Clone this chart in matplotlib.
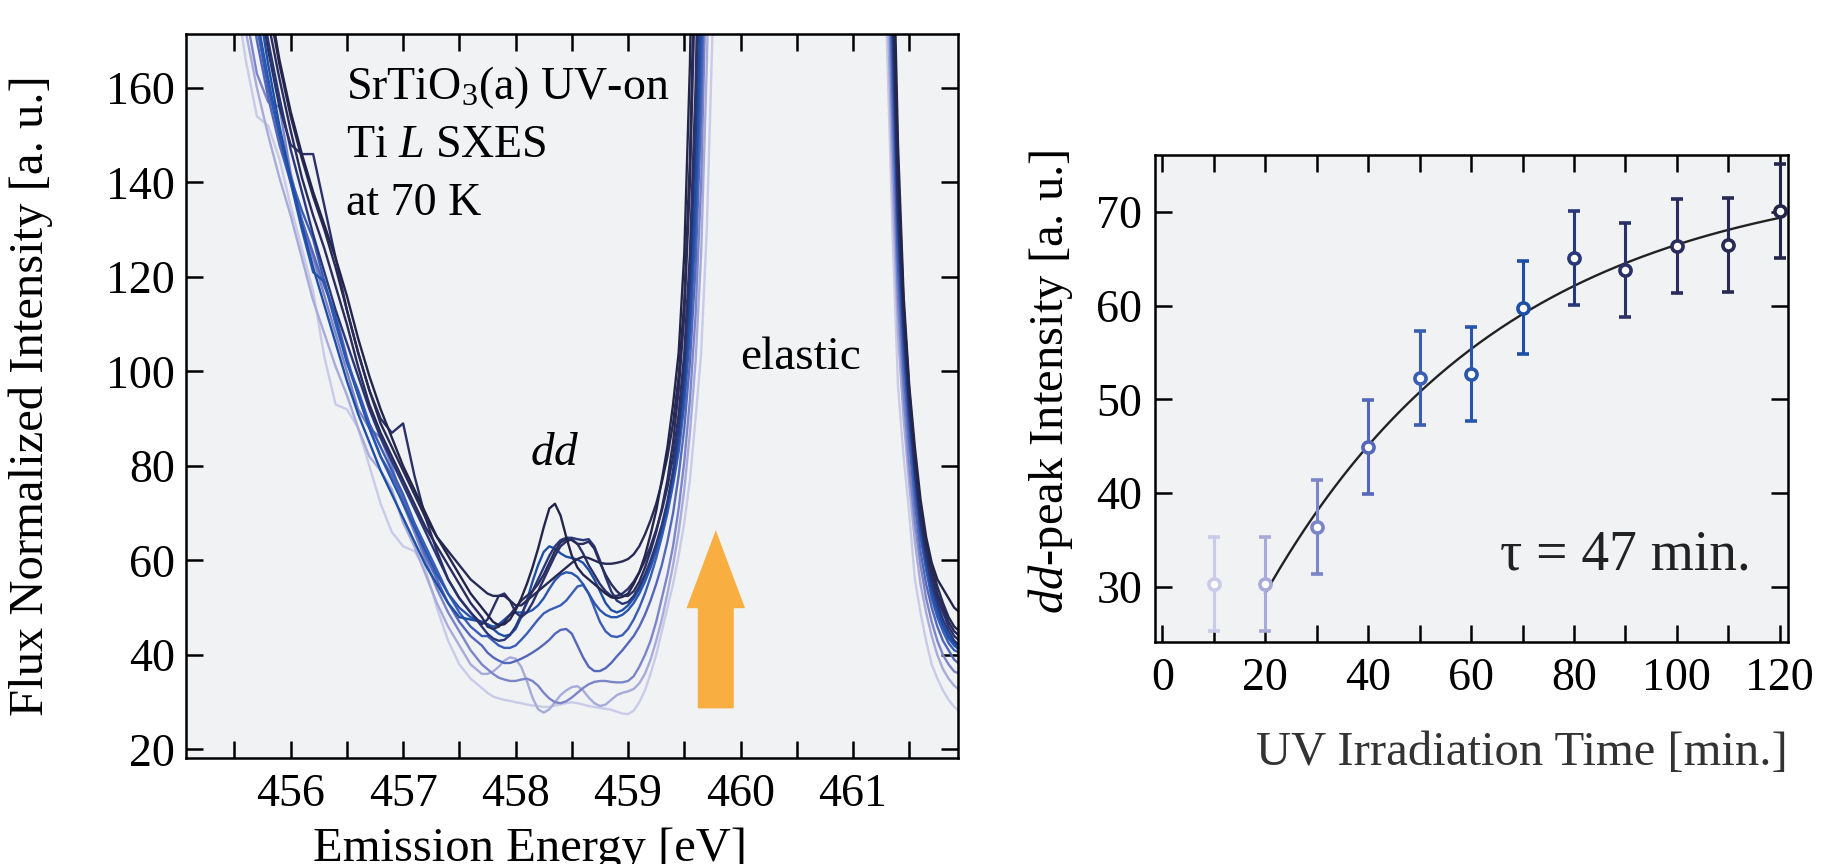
import numpy as np
import matplotlib
matplotlib.use("Agg")
import matplotlib.pyplot as plt
from matplotlib.patches import FancyArrow
from matplotlib.ticker import MultipleLocator

plt.rcParams['font.family'] = ['Liberation Serif', 'DejaVu Serif']
plt.rcParams['mathtext.fontset'] = 'custom'
plt.rcParams['mathtext.rm'] = 'Liberation Serif'
plt.rcParams['mathtext.it'] = 'Liberation Serif:italic'

# UV irradiation time of each scan [min.]
scan_minutes = [10, 20, 30, 40, 50, 60, 70, 80, 90, 100, 110, 120]
line_colors = ['#c9cbe8', '#a6abd9', '#7b85c7', '#5567ba', '#3a5db5', '#2856ae',
               '#1e4fa6', '#28387a', '#2a3068', '#292c5c', '#272a53', '#23254a']

# emission energy sampling [eV]: inelastic side and elastic tail
energy_low = np.round(np.r_[np.arange(455.5, 457.75, 0.1), np.arange(457.75, 459.81, 0.05)], 2)
energy_tail = np.round(np.arange(461.25, 461.96, 0.05), 2)

spectra_low = [
    [182, 166, 154, 152, 145, 135, 126, 117, 103, 93, 92, 88, 80, 72, 66, 63, 62, 58, 50, 43, 38, 35, 33,
     32, 31.2, 30.8, 30.5, 30.3, 30, 29.8, 29.5, 29.3, 29.2, 29, 29, 29.3, 29.5, 29.8, 30, 29.8, 29.5, 29.2, 29,
     28.8, 28.6, 28.4, 28, 27.6, 27.5, 28.2, 30, 32.5, 36, 40, 45, 50, 55, 61, 68, 77, 90, 104, 130, 171, 230],
    [190, 172, 160, 150, 141, 133, 124, 115, 108, 101, 95, 88, 82, 79, 75, 68, 63, 57, 51, 46, 42, 38, 36,
     36, 36.5, 37.5, 38.8, 39.5, 39.2, 37.5, 34.5, 31, 28.5, 27.8, 28.5, 30, 31.5, 32.5, 33.2, 33.4, 32.5, 31, 29.8,
     29.2, 29.5, 30.5, 31.5, 32, 32.3, 32.8, 34, 36, 39, 43, 47.5, 53, 59, 66, 75, 87, 102, 125, 165, 215, 280],
    [195, 176, 163, 157, 156, 142, 132, 124, 116, 108, 100, 92, 88, 86, 80, 72, 66, 60, 54, 49, 45, 41, 38,
     37, 36, 35.2, 34.8, 34.5, 34.5, 34.8, 35, 34.5, 33.5, 32, 30.8, 30, 29.8, 30.2, 31, 32, 33, 33.8, 34.3,
     34.5, 34.5, 34.3, 34.2, 34.2, 34.5, 35.5, 37.5, 40, 43, 47, 52, 57, 63, 71, 81, 94, 112, 140, 190, 250, 320],
    [205, 185, 170, 158, 148, 140, 132, 125, 118, 112, 103, 95, 88, 82, 78, 73, 67, 61, 56, 51, 47, 44, 42,
     40.5, 39.5, 38.8, 38.3, 38.3, 38.7, 39.2, 39.8, 40.5, 41.3, 42.2, 43.2, 44.5, 45.3, 45.5, 44.5, 42, 39.5, 37.5, 36.6,
     36.6, 37.2, 38.3, 39.7, 41, 42.5, 44, 46, 48.5, 51.5, 55, 59, 64, 70, 78, 88, 102, 122, 155, 205, 270, 340],
    [210, 190, 173, 160, 150, 141, 134, 128, 119, 110, 102, 96, 89, 84, 79, 74, 68, 63, 58, 53, 49, 46, 44,
     44, 43, 42, 41.5, 41.5, 42, 43.2, 44.5, 46, 47.5, 48.8, 49.5, 50, 50.5, 51.5, 53, 54.5, 54.8, 53, 50,
     47, 45, 44, 43.8, 44.2, 45.5, 47.5, 50, 53, 56.5, 60.5, 65, 70, 76, 83, 93, 108, 130, 165, 220, 290, 360],
    [215, 192, 175, 162, 150, 140, 130, 121, 119, 111, 102, 95, 88, 82, 77, 72, 67, 62, 57, 53, 50, 48, 47,
     46.5, 46, 46.5, 47.5, 48.5, 49, 49, 49, 49.5, 50.5, 52, 54, 55.8, 57, 57.5, 57.3, 56.5, 55, 53, 51,
     49.5, 48.5, 48, 48, 48.5, 49.5, 51, 53, 55.5, 58.5, 62, 66, 71, 77, 85, 95, 110, 135, 175, 235, 300, 380],
    [220, 198, 180, 165, 152, 141, 131, 122, 114, 106, 98, 91, 85, 79, 74, 69, 64, 59, 55, 51, 48, 47.5, 47,
     46.5, 45.5, 44.5, 44, 44.3, 45.5, 48, 51.5, 55.5, 59, 61.8, 63, 62.5, 61.5, 60.8, 60.5, 60.2, 59.5, 58, 56,
     53.5, 51, 49.5, 49, 49.5, 50.5, 52, 54, 56.5, 59.5, 63, 67, 72, 78, 86, 97, 114, 140, 180, 240, 310, 390],
    [230, 205, 185, 170, 158, 147, 138, 129, 121, 113, 106, 99, 92, 86, 81, 76, 71, 66, 61, 56, 52, 49, 46,
     44.5, 43.5, 43, 43.2, 44.2, 46, 48.5, 51, 53.5, 56, 58.5, 61, 63, 64.3, 64.8, 64.8, 64.5, 64.3, 64.5, 63,
     60, 56.5, 53.5, 51.5, 50.8, 51.2, 52.5, 54.5, 57, 60, 63.5, 67.5, 72.5, 79, 88, 100, 120, 150, 200, 260, 330, 400],
    [225, 200, 182, 168, 156, 148, 146, 146, 135, 124, 113, 104, 96, 90, 87, 89, 78, 69, 62, 56, 52, 49, 46.5,
     47.5, 50, 52.5, 53, 51.5, 49, 48, 49, 51, 53.5, 56, 58.5, 61, 63, 64, 64.5, 63.5, 61.5, 59, 57,
     55, 53.5, 52.5, 52.5, 53, 54, 55.5, 57.5, 60, 63, 66.5, 70.5, 75.5, 82, 91, 104, 125, 160, 215, 280, 350, 420],
    [235, 210, 190, 174, 162, 151, 141, 133, 126, 118, 110, 101, 93, 87, 82, 77, 72, 67, 63, 59, 55, 51, 48,
     46, 45.5, 46, 47, 48.5, 50, 51.5, 52.5, 53.5, 55, 57, 59.5, 62, 63.8, 64.5, 64.3, 63.5, 63.5, 64, 62.5,
     59.5, 57, 55, 53.5, 52.5, 52.5, 53.5, 55.5, 58.5, 62, 66, 71, 77, 85, 96, 112, 140, 185, 245, 310, 380, 450],
    [240, 215, 195, 178, 165, 154, 145, 137, 130, 122, 113, 104, 96, 89, 84, 79, 74, 69, 65, 62, 59, 56, 54,
     53, 52.5, 52.5, 52.5, 51.5, 50.5, 50.5, 51.5, 52.5, 53.5, 54.5, 55.5, 56.5, 57.5, 58.5, 59.5, 60.3, 60.8, 60.5, 60,
     59.5, 59.3, 59.3, 59.5, 59.8, 60.3, 61.3, 63, 65.5, 68.5, 72, 76.5, 82, 89, 99, 115, 145, 195, 255, 320, 390, 460],
    [245, 220, 198, 180, 166, 155, 146, 138, 131, 124, 116, 107, 99, 92, 86, 80, 75, 70, 65, 61, 57, 53, 50,
     48.5, 47, 46.3, 46.5, 47.5, 49.5, 52, 55, 58.5, 62.5, 67, 71, 72, 69.5, 65, 61, 58.5, 57, 56, 55,
     54, 53, 52.2, 52, 52.3, 53, 55, 57.5, 61, 65.5, 70.5, 77, 84, 93, 104, 125, 165, 230, 300, 370, 440, 510],
]

spectra_tail = [
    [220, 171, 130, 97, 82, 70, 56, 49, 43, 38, 35, 32.5, 30.5, 29, 28],
    [240, 185, 140, 108, 90, 76, 64, 55, 49, 44, 40, 37, 35, 33.5, 32.5],
    [260, 200, 150, 115, 95, 80, 68, 59, 52, 47, 43, 40, 38, 36.5, 36],
    [280, 215, 160, 122, 100, 85, 72, 62, 55, 50, 46, 43, 41, 39, 38],
    [290, 225, 168, 127, 104, 88, 75, 65, 58, 52, 48, 45, 42.5, 41, 40.5],
    [300, 230, 172, 130, 106, 90, 77, 66, 59, 53, 49, 46, 43.5, 42, 41],
    [310, 235, 175, 132, 107, 91, 78, 67, 60, 54, 50, 46.5, 44, 42.5, 41.5],
    [320, 240, 178, 134, 109, 92, 79, 68, 61, 55, 51, 47.5, 45, 43, 42],
    [330, 245, 182, 137, 111, 94, 80, 69, 62, 56.5, 52, 49, 46, 44, 43],
    [335, 250, 185, 140, 113, 95, 81, 70, 63, 57.5, 53, 50, 47, 45, 44],
    [340, 255, 190, 143, 114, 96, 82, 71, 64, 58.5, 54.5, 51, 48, 46, 45],
    [350, 260, 200, 148, 116, 97, 84, 73, 65, 59.5, 56, 54, 52, 50, 49],
]

# dd-peak intensity vs irradiation time
dd_intensity = [30.3, 30.3, 36.4, 44.9, 52.3, 52.7, 59.8, 65.1, 63.8, 66.4, 66.5, 70.1]
dd_error = [5, 5, 5, 5, 5, 5, 5, 5, 5, 5, 5, 5]
tau = 47.0

bg = '#f1f2f4'
tick_fs = 33
label_fs = 35
fig = plt.figure(figsize=(18.24, 8.64), dpi=100)

# ---- left: Ti L SXES spectra ----
ax = fig.add_axes([0.102, 0.1227, 0.423, 0.8379])
ax.set_facecolor(bg)
for k in range(len(scan_minutes)):
    ax.plot(energy_low, spectra_low[k], color=line_colors[k], lw=1.7)
    ax.plot(energy_tail, spectra_tail[k], color=line_colors[k], lw=1.7)
ax.set_xlim(455.07, 461.93)
ax.set_ylim(18.2, 171.4)
ax.xaxis.set_major_locator(MultipleLocator(1))
ax.xaxis.set_minor_locator(MultipleLocator(0.5))
ax.yaxis.set_major_locator(MultipleLocator(20))
ax.tick_params(which='both', direction='in', top=True, right=True, length=12, width=1.8, labelsize=tick_fs)
ax.tick_params(axis='x', pad=11)
ax.tick_params(axis='y', pad=8)
for s in ax.spines.values():
    s.set_linewidth(1.8)
ax.set_ylabel('Flux Normalized Intensity [a. u.]', fontsize=label_fs)
ax.yaxis.set_label_coords(-0.172, 0.5)
ax.set_xlabel('Emission Energy [eV]', fontsize=label_fs)
ax.xaxis.set_label_coords(0.446, -0.095)

ax.text(456.49, 157.6, 'SrTiO$_3$(a) UV-on', fontsize=33)
ax.text(456.49, 145.4, 'Ti $L$ SXES', fontsize=33)
ax.text(456.49, 133.2, 'at 70 K', fontsize=33)
ax.text(458.35, 80.3, '$dd$', fontsize=34, ha='center')
ax.text(460.0, 100.6, 'elastic', fontsize=34)

arrow = FancyArrow(459.78, 28.7, 0, 37.7, width=0.32, head_width=0.52, head_length=16.5,
                   length_includes_head=True, color='#f9ae41', lw=0)
ax.add_patch(arrow)

# ---- right: dd-peak growth ----
ax2 = fig.add_axes([0.633, 0.257, 0.347, 0.5636])
ax2.set_facecolor(bg)

t = np.array(scan_minutes, dtype=float)
y = np.array(dd_intensity)
sel = t >= 20
G = np.column_stack([np.ones(sel.sum()), -np.exp(-(t[sel] - 20) / tau)])
A, B = np.linalg.lstsq(G, y[sel], rcond=None)[0]
tt = np.linspace(20, 120, 200)
ax2.plot(tt, A - B * np.exp(-(tt - 20) / tau), color='#222222', lw=1.7, zorder=2)

for k in range(len(scan_minutes)):
    ax2.errorbar(scan_minutes[k], dd_intensity[k], yerr=dd_error[k], fmt='o', color=line_colors[k],
                 ms=8, mew=2.6, mfc='white', elinewidth=2.2, capsize=4.5, capthick=2.2, zorder=3)

ax2.set_xlim(-1.5, 121.5)
ax2.set_ylim(24.1, 76.1)
ax2.xaxis.set_major_locator(MultipleLocator(20))
ax2.xaxis.set_minor_locator(MultipleLocator(10))
ax2.yaxis.set_major_locator(MultipleLocator(10))
ax2.tick_params(which='both', direction='in', top=True, right=True, length=12, width=1.8, labelsize=tick_fs)
ax2.tick_params(axis='x', pad=11)
ax2.tick_params(axis='y', pad=9)
for s in ax2.spines.values():
    s.set_linewidth(1.8)
ax2.set_ylabel('$dd$-peak Intensity [a. u.]', fontsize=label_fs)
ax2.yaxis.set_label_coords(-0.125, 0.535)
ax2.set_xlabel('UV Irradiation Time [min.]', fontsize=label_fs, color='#333333', ha='right')
ax2.xaxis.set_label_coords(1.0, -0.183)
ax2.text(114.4, 31.8, 'τ = 47 min.', fontsize=40, ha='right', color='#222222')

fig.savefig('out.png', dpi=100)
